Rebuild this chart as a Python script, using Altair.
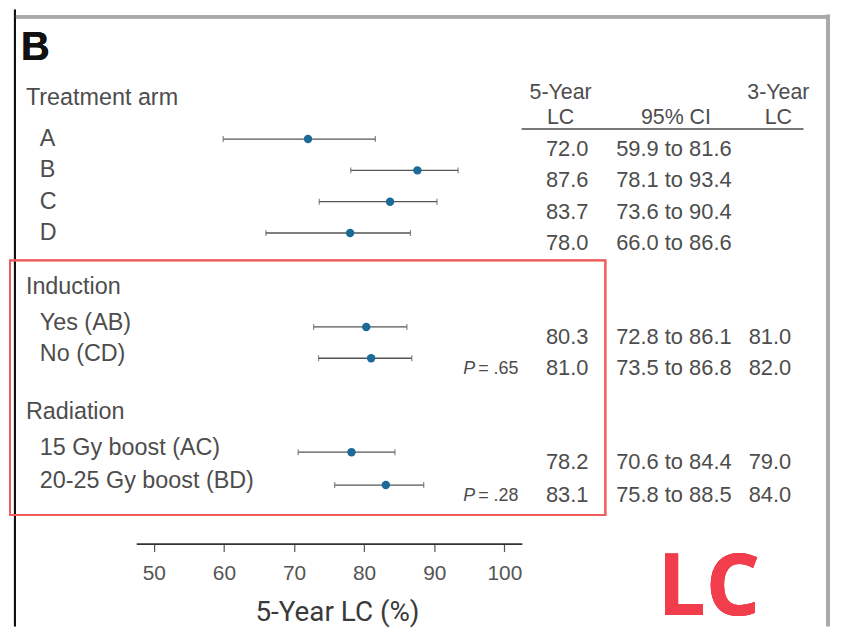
import altair as alt
import pandas as pd

# ---------------- data ----------------
categories = ["A", "B", "C", "D", "Yes (AB)", "No (CD)",
              "15 Gy boost (AC)", "20-25 Gy boost (BD)"]
sections = ["top", "top", "top", "top", "bottom", "bottom", "bottom", "bottom"]
lc5 = [72.0, 87.6, 83.7, 78.0, 80.3, 81.0, 78.2, 83.1]
ci_lo = [59.9, 78.1, 73.6, 66.0, 72.8, 73.5, 70.6, 75.8]
ci_hi = [81.6, 93.4, 90.4, 86.6, 86.1, 86.8, 84.4, 88.5]
lc3 = [None, None, None, None, 81.0, 82.0, 79.0, 84.0]
group_names = ["Treatment arm", "Induction", "Radiation"]
p_labels = [".65", ".28"]
p_categories = ["No (CD)", "20-25 Gy boost (BD)"]
x_ticks = [50, 60, 70, 80, 90, 100]

# ---------------- layout (row units) ----------------
ROWS = [1, 2, 3, 4, 7, 8, 11, 12.05]
GROUP_ROWS = [-0.3, 5.73, 9.73]

df = pd.DataFrame({
    "cat": categories, "section": sections, "row": ROWS,
    "lc5": lc5, "lo": ci_lo, "hi": ci_hi, "lc3": lc3,
})
df["lc5_txt"] = df["lc5"].map(lambda v: f"{v:.1f}")
df["ci_txt"] = [f"{a:.1f} to {b:.1f}" for a, b in zip(ci_lo, ci_hi)]
df["lc3_txt"] = df["lc3"].map(lambda v: "" if pd.isna(v) else f"{v:.1f}")

gdf = pd.DataFrame({"name": group_names, "row": GROUP_ROWS})
pdf = pd.DataFrame({"cat": p_categories, "p": [f"= {p}" for p in p_labels]})
pdf = pdf.merge(df[["cat", "row"]], on="cat")
pdf["P"] = "P"

hdf = pd.DataFrame({
    "txt": ["5-Year", "LC", "95% CI", "3-Year", "LC"],
    "col": ["c1", "c1", "c2", "c3", "c3"],
    "row": [-0.46, 0.33, 0.33, -0.46, 0.33],
})

FONT = "Liberation Sans"
TXT = "#4d4d4d"

xscale = alt.Scale(domain=[47.5, 102.5], nice=False, zero=False)
yscale = alt.Scale(domain=[-3.127, 13.921], reverse=True, nice=False, zero=False)
xaxis = alt.Axis(values=x_ticks, grid=False, domainColor="#333333", domainWidth=2,
                 tickColor="#555555", tickSize=8, tickWidth=1.2,
                 labelFont=FONT, labelFontSize=21, labelColor="#555555", labelPadding=11,
                 titleFont="Roboto", titleFontSize=28, titleColor="#3a3a3a",
                 titleFontWeight="normal", titlePadding=15, titleX=202, titleAlign="center")
XT = "5-Year LC (%)"
Y = alt.Y("row:Q", scale=yscale, axis=None)

base = alt.Chart(df)

bars = base.mark_rule(color="#555555", strokeWidth=1.3).encode(
    x=alt.X("lo:Q", scale=xscale, axis=xaxis, title=XT), x2="hi:Q", y=Y)
cap_lo = base.mark_tick(color="#555555", thickness=1.2, size=6, orient="vertical").encode(
    x=alt.X("lo:Q", scale=xscale, axis=xaxis, title=XT), y=Y)
cap_hi = base.mark_tick(color="#555555", thickness=1.2, size=6, orient="vertical").encode(
    x=alt.X("hi:Q", scale=xscale, axis=xaxis, title=XT), y=Y)
dots = base.mark_circle(color="#1b6a97", size=72, opacity=1).encode(
    x=alt.X("lc5:Q", scale=xscale, axis=xaxis, title=XT), y=Y)

top = base.transform_filter(alt.datum.section == "top")
bottom = base.transform_filter(alt.datum.section == "bottom")

LAB = 23.5
lab_top = top.mark_text(align="left", baseline="middle", font=FONT, fontSize=LAB, color=TXT).encode(
    x=alt.value(40 - 137), y=Y, text="cat:N")
lab_bot = bottom.mark_text(align="left", baseline="middle", font=FONT, fontSize=LAB, color=TXT, dy=-4).encode(
    x=alt.value(40 - 137), y=Y, text="cat:N")
groups = alt.Chart(gdf).mark_text(align="left", baseline="middle", font=FONT, fontSize=LAB, color=TXT).encode(
    x=alt.value(26 - 137), y=Y, text="name:N")

VAL = 22
col_lc5 = base.mark_text(align="right", baseline="middle", font=FONT, fontSize=VAL, color=TXT, dy=10).encode(
    x=alt.value(592 - 137), y=Y, text="lc5_txt:N")
col_ci = base.mark_text(align="right", baseline="middle", font=FONT, fontSize=VAL, color=TXT, dy=10).encode(
    x=alt.value(736 - 137), y=Y, text="ci_txt:N")
col_lc3 = base.mark_text(align="right", baseline="middle", font=FONT, fontSize=VAL, color=TXT, dy=10).encode(
    x=alt.value(796 - 137), y=Y, text="lc3_txt:N")

p_it = alt.Chart(pdf).mark_text(align="right", baseline="middle", font=FONT, fontSize=18,
                                fontStyle="italic", color=TXT, dy=11).encode(
    x=alt.value(478 - 137), y=Y, text="P:N")
p_val = alt.Chart(pdf).mark_text(align="left", baseline="middle", font=FONT, fontSize=18,
                                 color=TXT, dy=11).encode(
    x=alt.value(481 - 137), y=Y, text="p:N")

hx = {"c1": 564 - 137, "c2": 680 - 137, "c3": 783 - 137}
heads = []
for c, xv in hx.items():
    heads.append(alt.Chart(hdf).transform_filter(alt.datum.col == c).mark_text(
        align="center", baseline="middle", font=FONT, fontSize=21.5, color=TXT).encode(
        x=alt.value(xv), y=Y, text="txt:N"))
underline = alt.Chart(hdf).mark_rule(color="#777777", strokeWidth=1.5).encode(
    x=alt.value(525 - 137), x2=alt.value(808 - 137), y=alt.value(120))

letter_b = alt.Chart(gdf).mark_text(align="left", baseline="middle", font=FONT, fontSize=40,
                                    fontWeight="bold", color="#111111").encode(
    x=alt.value(21 - 137), y=alt.value(38), text=alt.value("B"))
big_lc = alt.Chart(gdf).mark_text(align="center", baseline="alphabetic", font="Open Sans", fontSize=86,
                                  fontWeight="bold", color="#f23d4c").encode(
    x=alt.value(713 - 137), y=alt.value(617 - 8), text=alt.value("LC"))

red_box = alt.Chart(gdf).mark_rect(filled=False, stroke="#f25c5c", strokeWidth=1.8).encode(
    x=alt.value(-127), x2=alt.value(609 - 137), y=alt.value(252), y2=alt.value(508))
frame_left = alt.Chart(gdf).mark_rule(color="#111111", strokeWidth=2).encode(
    x=alt.value(15 - 137), y=alt.value(0), y2=alt.value(620))
frame_top = alt.Chart(gdf).mark_rule(color="#aaaaaa", strokeWidth=3.5).encode(
    x=alt.value(16 - 137), x2=alt.value(835 - 137), y=alt.value(7))
frame_right = alt.Chart(gdf).mark_rule(color="#aaaaaa", strokeWidth=3.5).encode(
    x=alt.value(833 - 137), y=alt.value(5), y2=alt.value(620))

chart = alt.layer(
    frame_left, frame_top, frame_right, red_box,
    bars, cap_lo, cap_hi, dots,
    lab_top, lab_bot, groups, col_lc5, col_ci, col_lc3, p_it, p_val,
    *heads, underline, letter_b, big_lc,
).properties(
    width=388, height=537,
    autosize=alt.AutoSizeParams(type="none"),
    padding={"left": 129, "top": 0, "right": 313, "bottom": 83},
).configure_view(stroke=None).configure_axis(labelFont=FONT)

chart.save("out.html", embed_options={"renderer": "svg", "actions": False})
